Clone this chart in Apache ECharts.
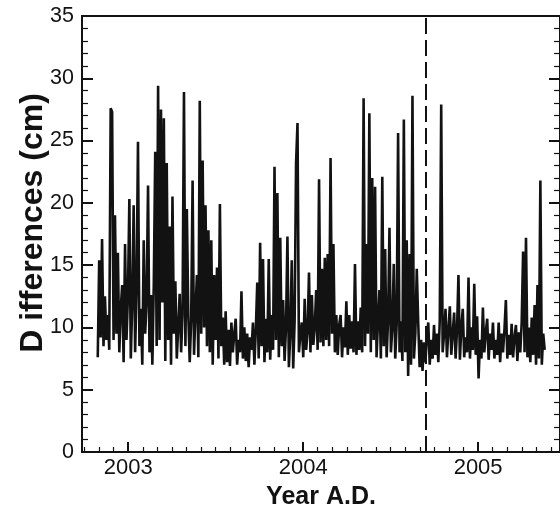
<!DOCTYPE html>
<html>
<head>
<meta charset="utf-8">
<script src="https://cdn.jsdelivr.net/npm/echarts@6/dist/echarts.min.js"></script>
<style>
html,body{margin:0;padding:0;background:#fff;}
#c{width:560px;height:515px;}
</style>
</head>
<body>
<div id="c"></div>
<script>
// Sampling of the series: start (decimal year) and 3-day step
const seriesStart = 2002.826;
const seriesStepDays = 3;
// Differences (cm), one value every 3 days
const differences = [
  7.6,15.4,9.2,17.1,8.5,12.5,9.0,11.0,8.2,27.6,
  27.3,9.0,19.0,9.5,16.0,8.0,11.5,13.4,7.2,16.7,
  9.0,12.5,20.3,7.5,12.0,19.8,8.0,13.0,24.9,8.5,
  11.5,7.0,17.0,9.5,12.0,21.4,8.0,12.6,7.0,13.5,
  24.1,8.5,29.4,9.0,27.5,12.0,26.8,7.3,23.2,9.0,
  18.1,7.0,20.5,9.5,13.7,7.5,10.0,12.7,8.0,11.0,
  28.9,8.5,19.5,11.0,7.2,10.5,21.8,7.8,11.3,14.2,
  7.6,28.2,9.5,23.4,10.0,19.8,8.5,17.8,8.0,17.0,
  7.0,14.2,9.0,14.8,7.5,19.9,8.5,10.8,7.0,11.3,
  7.2,9.8,6.9,10.4,8.0,9.5,10.7,7.0,9.0,8.0,
  12.9,7.5,10.0,7.3,9.5,6.8,9.2,8.2,10.4,7.0,
  9.8,13.6,7.5,16.8,8.5,15.5,7.2,10.7,8.0,15.5,
  7.4,11.0,8.2,22.9,9.0,20.8,7.6,17.2,8.5,12.2,
  7.3,10.0,17.3,6.8,9.5,15.4,6.7,10.5,23.2,26.4,
  8.0,9.5,10.4,7.6,12.3,8.2,9.6,14.4,8.0,12.6,
  8.6,10.0,13.0,8.2,21.9,8.8,14.7,8.5,15.6,9.0,
  15.9,8.5,23.6,9.5,16.7,8.0,11.0,7.8,10.2,11.0,
  7.6,10.0,8.4,12.1,7.8,11.0,8.3,10.5,8.0,15.1,
  7.8,10.5,8.2,11.6,8.0,28.4,8.5,16.7,9.5,27.2,
  8.0,22.0,9.0,21.3,7.6,10.5,13.0,7.5,22.1,8.5,
  16.3,7.6,10.5,18.0,8.0,10.0,15.1,7.5,10.2,25.6,
  8.0,10.5,7.3,26.7,8.0,17.0,6.1,15.9,7.0,28.6,
  7.5,9.5,14.7,10.4,6.8,9.0,6.5,8.8,7.2,9.2,
  10.4,7.0,9.0,7.5,10.2,7.8,9.5,7.2,10.6,27.9,
  8.0,9.5,11.5,7.6,9.8,11.7,7.8,9.5,11.2,7.5,
  9.8,14.2,7.4,10.0,11.5,7.6,9.2,8.0,14.0,7.5,
  10.0,8.2,13.5,7.8,10.9,5.9,9.0,7.5,11.6,8.0,
  9.6,10.7,7.4,9.5,8.2,10.4,7.5,9.0,7.8,10.4,
  7.2,9.5,8.0,9.8,12.2,7.5,9.4,7.8,10.3,7.6,
  9.2,10.2,7.3,9.6,8.0,10.4,16.1,8.0,17.2,7.6,
  10.0,7.2,10.8,7.8,11.8,7.0,13.4,7.5,21.8,7.0,
  9.5,8.2
];
// Axis settings
const xMin = 2002.736, xMax = 2005.468;
const xTickLabels = [2003, 2004, 2005];
const yMin = 0, yMax = 35, yStep = 5;
const dashedYear = 2004.705;

const stepYears = seriesStepDays / 365.25;
const seriesData = differences.map((v, i) => [seriesStart + i * stepYears, v]);

const monthTicks = [];
for (let y = 2002; y <= 2005; y++) {
  for (let m = 1; m < 12; m++) {
    const t = y + m / 12;
    if (t > xMin && t < xMax) monthTicks.push(t);
  }
}

const ink = '#121212';
const font = 'Liberation Sans, Arial, Helvetica, sans-serif';

const chart = echarts.init(document.getElementById('c'), null, {renderer: 'canvas'});
chart.setOption({
  animation: false,
  backgroundColor: '#fff',
  grid: {left: 82, top: 16, width: 480, height: 438, show: true, borderColor: ink, borderWidth: 2, containLabel: false},
  xAxis: [
    {
      type: 'value', min: xMin, max: xMax, position: 'bottom',
      axisLine: {show: true, onZero: false, lineStyle: {color: ink, width: 2}},
      axisTick: {show: true, inside: true, length: 10, customValues: xTickLabels, lineStyle: {color: ink, width: 2}},
      axisLabel: {show: true, customValues: xTickLabels, margin: 5, color: ink, fontSize: 22, fontFamily: font,
        formatter: v => String(Math.round(v))},
      splitLine: {show: false},
      name: 'Year A.D.', nameLocation: 'middle', nameGap: 33,
      nameTextStyle: {fontSize: 25, fontWeight: 'bold', color: ink, fontFamily: font}
    },
    {
      type: 'value', min: xMin, max: xMax, position: 'bottom',
      axisLine: {show: false},
      axisTick: {show: true, inside: true, length: 5, customValues: monthTicks, lineStyle: {color: ink, width: 1.2}},
      axisLabel: {show: false},
      splitLine: {show: false}
    }
  ],
  yAxis: [
    {
      type: 'value', min: yMin, max: yMax, interval: yStep, position: 'left',
      axisLine: {show: true, onZero: false, lineStyle: {color: ink, width: 2}},
      axisTick: {show: true, inside: true, length: 11, lineStyle: {color: ink, width: 2}},
      minorTick: {show: true, splitNumber: 5, length: 6, lineStyle: {color: ink, width: 1.2}},
      axisLabel: {show: true, margin: 8, color: ink, fontSize: 21.5, fontFamily: font},
      splitLine: {show: false}
    },
    {
      type: 'value', min: yMin, max: yMax, interval: yStep, position: 'right',
      axisLine: {show: true, onZero: false, lineStyle: {color: ink, width: 2}},
      axisTick: {show: true, inside: true, length: 11, lineStyle: {color: ink, width: 2}},
      minorTick: {show: true, splitNumber: 5, length: 6, lineStyle: {color: ink, width: 1.2}},
      axisLabel: {show: false},
      splitLine: {show: false}
    }
  ],
  graphic: [{
    type: 'text', silent: true,
    x: 33, y: 223,
    rotation: Math.PI / 2,
    style: {text: 'D ifferences (cm)', fontSize: 32, fontWeight: 'bold', fill: ink, fontFamily: font,
      textAlign: 'center', textVerticalAlign: 'middle'}
  }],
  series: [{
    type: 'line', xAxisIndex: 0, yAxisIndex: 0,
    data: seriesData, showSymbol: false, symbol: 'none',
    lineStyle: {color: ink, width: 2.6, join: 'bevel'},
    markLine: {
      silent: true, symbol: ['none', 'none'], label: {show: false},
      lineStyle: {color: ink, width: 2, type: [16, 6]},
      data: [{xAxis: dashedYear}]
    }
  }]
});
</script>
</body>
</html>
